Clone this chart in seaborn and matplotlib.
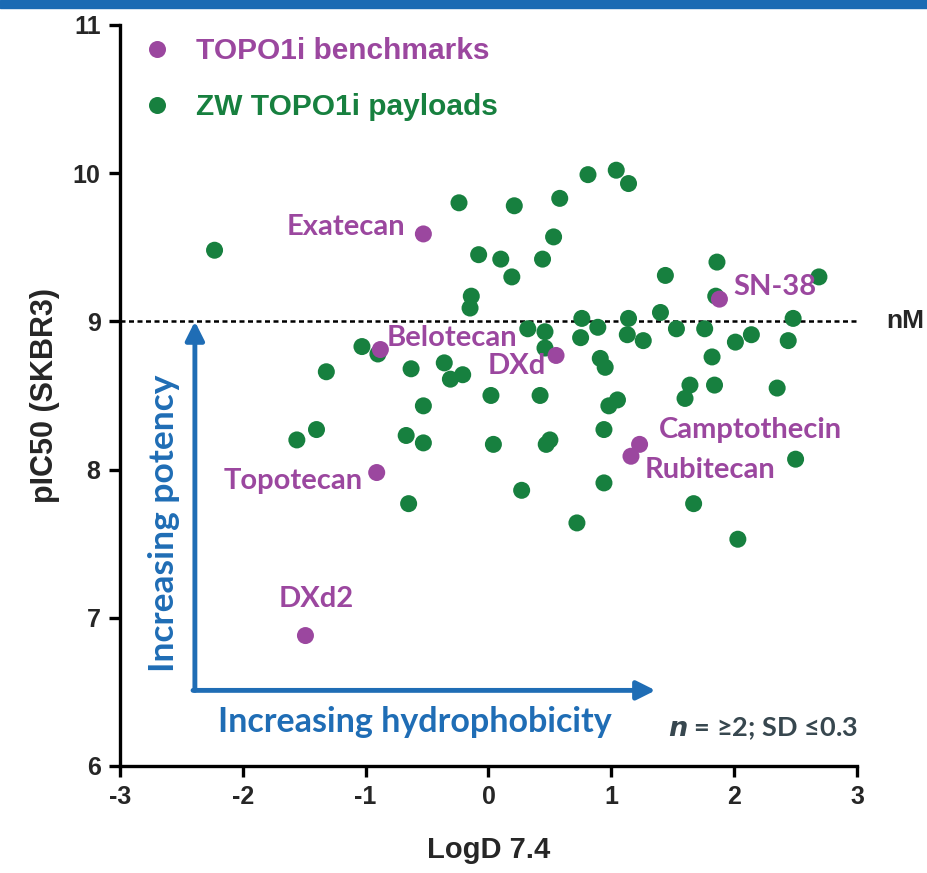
import numpy as np
import pandas as pd
import matplotlib
matplotlib.use("Agg")
import matplotlib.pyplot as plt
from matplotlib.patches import Rectangle
import seaborn as sns

# ZW TOPO1i payloads (LogD 7.4, pIC50)
payload_logd = [-2.23, -0.24, 0.21, 0.58, 0.81, 1.04, 1.14, 0.53, -0.08, 0.10,
                0.44, 0.19, -0.14, -0.15, 1.44, 1.86, 2.69, 1.85, 2.48, 2.44,
                2.14, 2.01, 1.76, 1.53, 1.40, 1.14, 1.13, 1.26, 0.76, 0.89,
                0.75, 0.32, 0.46, 0.46, 0.91, 0.95, 1.82, 1.64, 1.60, 1.84,
                2.35, 0.02, 0.42, 0.98, 1.05, 0.94, 0.04, 0.47, 0.50, -0.90,
                -1.03, -1.32, -0.63, -0.36, -0.31, -0.21, -0.53, -1.40, -1.56, -0.67,
                -0.53, -0.65, 0.27, 0.94, 0.72, 1.67, 2.50, 2.03]
payload_pic50 = [9.48, 9.80, 9.78, 9.83, 9.99, 10.02, 9.93, 9.57, 9.45, 9.42,
                 9.42, 9.30, 9.17, 9.09, 9.31, 9.40, 9.30, 9.17, 9.02, 8.87,
                 8.91, 8.86, 8.95, 8.95, 9.06, 9.02, 8.91, 8.87, 9.02, 8.96,
                 8.89, 8.95, 8.93, 8.82, 8.75, 8.69, 8.76, 8.57, 8.48, 8.57,
                 8.55, 8.50, 8.50, 8.43, 8.47, 8.27, 8.17, 8.17, 8.20, 8.78,
                 8.83, 8.66, 8.68, 8.72, 8.61, 8.64, 8.43, 8.27, 8.20, 8.23,
                 8.18, 7.77, 7.86, 7.91, 7.64, 7.77, 8.07, 7.53]

# TOPO1i benchmarks
bench_names = ["Exatecan", "Belotecan", "DXd", "SN-38", "Camptothecin",
               "Rubitecan", "Topotecan", "DXd2"]
bench_logd = [-0.53, -0.88, 0.55, 1.88, 1.23, 1.16, -0.91, -1.49]
bench_pic50 = [9.59, 8.81, 8.77, 9.15, 8.17, 8.09, 7.98, 6.88]

# label anchor positions (data coords) and alignment
label_x = [-0.68, -0.83, 0.47, 1.99, 1.39, 1.27, -1.02, -1.40]
label_y = [9.64, 8.89, 8.70, 9.23, 8.27, 8.00, 7.92, 7.13]
label_ha = ["right", "left", "right", "left", "left", "left", "right", "center"]

GREEN = "#17803f"
PURPLE = "#9b479f"
BLUE = "#1f6db5"
GREY = "#37474f"
SOFT = ["Lato", "DejaVu Sans"]

df = pd.DataFrame({
    "logd": payload_logd + bench_logd,
    "pic50": payload_pic50 + bench_pic50,
    "group": ["ZW TOPO1i payloads"] * len(payload_logd) + ["TOPO1i benchmarks"] * len(bench_logd),
})

sns.set_style("white")
plt.rcParams["font.family"] = ["Liberation Sans", "DejaVu Sans"]
plt.rcParams["axes.unicode_minus"] = False

fig = plt.figure(figsize=(9.27, 8.73), dpi=100)
ax = fig.add_axes([0.1294, 0.1226, 0.7951, 0.8488])

# blue band on top
fig.patches.append(Rectangle((0, 0.991), 1, 0.009, transform=fig.transFigure,
                             color="#1b6ab3", zorder=10))

sns.scatterplot(data=df, x="logd", y="pic50", hue="group",
                hue_order=["TOPO1i benchmarks", "ZW TOPO1i payloads"],
                palette={"TOPO1i benchmarks": PURPLE, "ZW TOPO1i payloads": GREEN},
                s=150, linewidth=0, ax=ax, zorder=3)

ax.set_xlim(-3, 3)
ax.set_ylim(6, 11)
ax.set_xticks(np.arange(-3, 4, 1))
ax.set_yticks(np.arange(6, 12, 1))

ax.axhline(9, color="black", lw=1.8, ls=(0, (2, 1.4)), zorder=1)
ax.text(3.24, 9, "nM", fontsize=19, fontweight="bold", va="center", ha="left",
        clip_on=False)

for name, lx, ly, ha in zip(bench_names, label_x, label_y, label_ha):
    ax.text(lx, ly, name, color=PURPLE, fontsize=21, fontweight="bold",
            ha=ha, va="center", family=SOFT)

# arrows
arrow_kw = dict(arrowstyle="-|>", color=BLUE, lw=3.5, mutation_scale=28,
                shrinkA=0, shrinkB=0)
ax.annotate("", xy=(-2.39, 9.0), xytext=(-2.39, 6.51), arrowprops=arrow_kw)
ax.annotate("", xy=(1.36, 6.51), xytext=(-2.405, 6.51), arrowprops=arrow_kw)
ax.text(-2.64, 7.64, "Increasing potency", rotation=90, color=BLUE, fontsize=25.5,
        ha="center", va="center", family=SOFT, fontweight="bold")
ax.text(-0.60, 6.30, "Increasing hydrophobicity", color=BLUE, fontsize=24.5,
        ha="center", va="center", family=SOFT, fontweight="bold")
ax.text(3.01, 6.25, r"$\bfit{n}$ = ≥2; SD ≤0.3", color=GREY, fontsize=19.5,
        ha="right", va="center", family=SOFT, fontweight="bold")

sns.despine(ax=ax)
for sp in ["left", "bottom"]:
    ax.spines[sp].set_linewidth(2.4)
    ax.spines[sp].set_color("black")
ax.tick_params(axis="both", which="major", length=8, width=2.4, direction="out",
               color="black", labelsize=18, pad=6, left=True, bottom=True)
for lab in ax.get_xticklabels() + ax.get_yticklabels():
    lab.set_fontweight("bold")

ax.set_xlabel("LogD 7.4", fontsize=21, fontweight="bold", labelpad=19)
ax.set_ylabel("pIC50 (SKBR3)", fontsize=22, fontweight="bold", labelpad=9)

leg = ax.legend(loc="upper left", bbox_to_anchor=(-0.012, 1.012), frameon=False,
                fontsize=21.5, handletextpad=0.45, labelspacing=0.95,
                borderaxespad=0.3, markerscale=1.0, handlelength=1.7)
for txt, col in zip(leg.get_texts(), [PURPLE, GREEN]):
    txt.set_color(col)
    txt.set_fontweight("bold")

fig.savefig("out.png", dpi=100)
